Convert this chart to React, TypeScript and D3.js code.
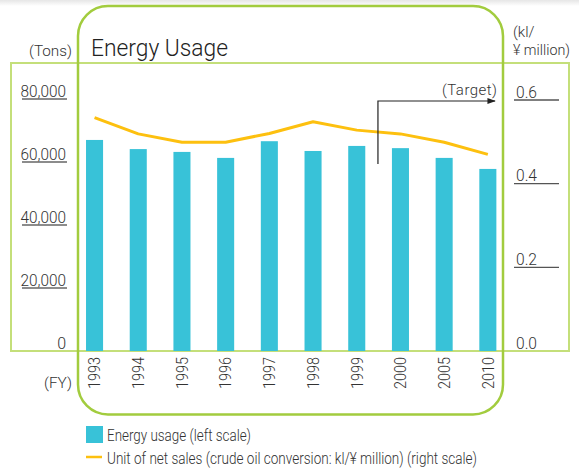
import React from "react";
import * as d3 from "d3";

const years = ["1993", "1994", "1995", "1996", "1997", "1998", "1999", "2000", "2005", "2010"];
const energyUsage = [67000, 64100, 63200, 61300, 66600, 63500, 65100, 64400, 61300, 57800];
const unitNetSales = [0.558, 0.519, 0.499, 0.499, 0.52, 0.548, 0.528, 0.519, 0.499, 0.47];
const leftTicks = [0, 20000, 40000, 60000, 80000];
const rightTicks = [0, 0.2, 0.4, 0.6];

const W = 579;
const H = 468;
const FONT = "Roboto, 'Liberation Sans', Arial, sans-serif";
const BAR = "#38C2D8";
const GOLD = "#FDC00F";
const TEXT = "#333";
const FW = 300;

export default function App() {
  const x = d3
    .scaleBand<string>()
    .domain(years)
    .range([72.7, 509.7])
    .paddingInner(0.61)
    .paddingOuter(0.305);
  const yL = d3.scaleLinear().domain([0, 80000]).range([351, 99]);
  const yR = d3.scaleLinear().domain([0, 0.6]).range([351, 100]);
  const cx = (d: string) => (x(d) as number) + x.bandwidth() / 2;

  const line = d3
    .line<number>()
    .x((_, i) => cx(years[i]))
    .y((v) => yR(v));

  const fmt = d3.format(",");

  return (
    <svg
      width={W}
      height={H}
      style={{ position: "absolute", left: 0, top: 0, background: "#fff" }}
      fontFamily={FONT}
    >
      <defs>
        <marker id="arr" viewBox="0 0 10 10" refX="9" refY="5" markerWidth="7" markerHeight="7" orient="auto">
          <path d="M0,1.5 L10,5 L0,8.5 Z" fill="#222" />
        </marker>
        <linearGradient id="topfade" x1="0" y1="0" x2="0" y2="1">
          <stop offset="0" stopColor="#e6e6e6" />
          <stop offset="1" stopColor="#ffffff" />
        </linearGradient>
      </defs>
      <rect x={0} y={0} width={W} height={6} fill="url(#topfade)" />

      {/* sharp frame */}
      <rect x={11} y={63} width={558} height={288} fill="none" stroke="#C4DF7A" strokeWidth={2} />
      {/* rounded frame */}
      <rect x={78} y={6} width={425} height={408.5} rx={30} ry={30} fill="none" stroke="#A2CC3E" strokeWidth={2.5} />

      {/* bars */}
      {years.map((yr, i) => (
        <rect
          key={yr}
          x={x(yr)}
          y={yL(energyUsage[i])}
          width={x.bandwidth()}
          height={yL(0) - yL(energyUsage[i])}
          fill={BAR}
        />
      ))}

      {/* line */}
      <path d={line(unitNetSales) || ""} fill="none" stroke={GOLD} strokeWidth={3} strokeLinejoin="round" />

      {/* target annotation */}
      <path d={`M${cx("2000") - 22.5},164 V101 H495`} fill="none" stroke="#222" strokeWidth={1.2} markerEnd="url(#arr)" />
      <text x={497} y={94.5} textAnchor="end" fontSize={15} fill={TEXT} fontWeight={FW} textLength={55}>
        (Target)
      </text>

      {/* title & units */}
      <text x={91} y={56} fontSize={23} fill="#222" fontWeight={300} textLength={137} lengthAdjust="spacingAndGlyphs">
        Energy Usage
      </text>
      <text x={72} y={56} textAnchor="end" fontSize={15} fill={TEXT} fontWeight={FW} textLength={43} lengthAdjust="spacingAndGlyphs">
        (Tons)
      </text>
      <text x={513} y={37} fontSize={15} fill={TEXT} fontWeight={FW}>
        (kl/
      </text>
      <text x={513} y={55} fontSize={15} fill={TEXT} fontWeight={FW} textLength={57} lengthAdjust="spacingAndGlyphs">
        ¥ million)
      </text>
      <text x={72} y={388} textAnchor="end" fontSize={15} fill={TEXT} fontWeight={FW} textLength={28} lengthAdjust="spacingAndGlyphs">
        (FY)
      </text>

      {/* left ticks */}
      {leftTicks.map((t) => (
        <g key={t}>
          <text
            x={66}
            y={yL(t) - 2.5}
            textAnchor="end"
            fontSize={16}
            fill={TEXT}
            fontWeight={FW}
            {...(t > 0 ? { textLength: 45.5, lengthAdjust: "spacingAndGlyphs" } : {})}
          >
            {fmt(t)}
          </text>
          {t > 0 && <line x1={22} x2={67} y1={yL(t)} y2={yL(t)} stroke="#666" strokeWidth={1.3} />}
        </g>
      ))}

      {/* right ticks */}
      {rightTicks.map((t) => (
        <g key={t}>
          <text x={516} y={yR(t) - 2.5} fontSize={16} fill={TEXT} fontWeight={FW} textLength={21} lengthAdjust="spacingAndGlyphs">
            {t.toFixed(1)}
          </text>
          {t > 0 && <line x1={514} x2={559} y1={yR(t)} y2={yR(t)} stroke="#555" strokeWidth={1.3} />}
        </g>
      ))}

      {/* year labels */}
      {years.map((yr) => (
        <text
          key={yr}
          transform={`translate(${cx(yr) + 5.8},357) rotate(-90)`}
          textAnchor="end"
          fontSize={16.5}
          fill={TEXT}
          fontWeight={FW}
          textLength={32}
          lengthAdjust="spacingAndGlyphs"
        >
          {yr}
        </text>
      ))}

      {/* legend */}
      <rect x={86} y={426} width={17} height={17} fill={BAR} />
      <text x={107} y={441} fontSize={16} fill={TEXT} fontWeight={FW} textLength={144} lengthAdjust="spacingAndGlyphs">
        Energy usage (left scale)
      </text>
      <line x1={86} x2={102} y1={457} y2={457} stroke={GOLD} strokeWidth={2.5} />
      <text x={107} y={463.5} fontSize={16} fill={TEXT} fontWeight={FW} textLength={370} lengthAdjust="spacingAndGlyphs">
        Unit of net sales (crude oil conversion: kl/¥ million) (right scale)
      </text>
    </svg>
  );
}
